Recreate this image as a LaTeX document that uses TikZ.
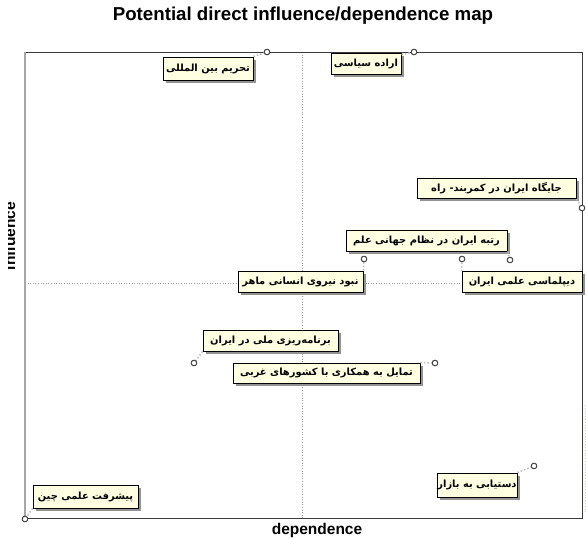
\documentclass[tikz,border=0pt]{standalone}
\usepackage{fontspec}
\setmainfont{Liberation Sans}
\newfontfamily\fa[Script=Arabic]{DejaVu Sans}
\TeXXeTstate=1
\usetikzlibrary{shadows}
\definecolor{boxfill}{RGB}{255,255,225}
\definecolor{framec}{RGB}{60,60,60}
\tikzset{
  lbl/.style={draw=black, line width=0.9pt, fill=boxfill,
    drop shadow={shadow xshift=2.5pt, shadow yshift=-2.5pt, fill=gray!85, opacity=1},
    inner sep=0pt, font=\fa\bfseries\fontsize{9.9}{12}\selectfont},
  pt/.style={circle, draw=gray!55!black, fill=white, line width=0.9pt, inner sep=0pt, minimum size=5.5pt},
  lead/.style={draw=gray!55, dotted, line width=1.5pt},
  mid/.style={draw=gray!75, dotted, line width=0.6pt},
  axislbl/.style={font=\bfseries\fontsize{15.5}{17}\selectfont},
}
\begin{document}
\begin{tikzpicture}[x=1pt,y=-1pt]
\useasboundingbox (0,0) rectangle (586,538);
% title
\node[font=\bfseries\fontsize{18.7}{21}\selectfont] (title) at (303,16) {Potential direct influence/dependence map};
% frame corners
\coordinate (tl) at (25,52);
\coordinate (br) at (582,518);
\coordinate (mt) at (302,52);
\coordinate (mb) at (302,518);
\coordinate (ml) at (25,283);
\coordinate (mr) at (582,283);
\draw[mid] (mt) -- (mb);
\draw[mid] (ml) -- (mr);
\draw[framec, line width=1pt] (tl) rectangle (br);
\draw[gray!70, line width=1.8pt] (25,52) -- (25,518);
\draw[draw={rgb,255:red,215;green,195;blue,160}, dotted, line width=0.8pt] (585,405) -- (585,512);
% axis labels
\node[axislbl, anchor=base] (dep) at (317,534) {dependence};
\begin{scope}
\clip (8,190) rectangle (20,285);
\node[axislbl, rotate=90, anchor=base] (inf) at (15,236) {influence};
\end{scope}
% points
\node[pt] (pA) at (267,52) {};
\node[pt] (pB) at (414,52) {};
\node[pt] (pC) at (582,208) {};
\node[pt] (pD) at (510,260) {};
\node[pt] (pE) at (364,259) {};
\node[pt] (pF) at (462,259) {};
\node[pt] (pG) at (194,363) {};
\node[pt] (pH) at (435,363) {};
\node[pt] (pI) at (25,519) {};
\node[pt] (pJ) at (534,466) {};
% labels
\node[lbl, minimum width=90pt, minimum height=23pt] (A) at (208,68.5) {\beginR تحریم بین المللی\endR};
\node[lbl, minimum width=70pt, minimum height=21pt] (B) at (366,63.5) {\beginR اراده سیاسی\endR};
\node[lbl, minimum width=159pt, minimum height=20pt] (C) at (496.5,188.5) {\beginR جایگاه ایران در کمربند- راه\endR};
\node[lbl, minimum width=161pt, minimum height=21pt] (D) at (426.5,240.5) {\beginR رتبه ایران در نظام جهانی علم\endR};
\node[lbl, minimum width=125pt, minimum height=21pt] (E) at (300.5,281.5) {\beginR نبود نیروی انسانی ماهر\endR};
\node[lbl, minimum width=120pt, minimum height=21pt] (F) at (522,282) {\beginR دیپلماسی علمی ایران\endR};
\node[lbl, minimum width=135pt, minimum height=21pt] (G) at (270.5,340.5) {\beginR برنامه‌ریزی ملی در ایران\endR};
\node[lbl, minimum width=187pt, minimum height=20pt] (H) at (326.5,373) {\beginR تمایل به همکاری با کشورهای غربی\endR};
\node[lbl, minimum width=105pt, minimum height=23pt] (I) at (85.5,496.5) {\beginR پیشرفت علمی چین\endR};
\node[lbl, minimum width=80pt, minimum height=24pt] (J) at (477,485) {\beginR دستیابی به بازار\endR};
% leaders
\draw[lead] (A.north east) -- (pA);
\draw[lead] ([yshift=-2pt]B.north east) -- (pB);
\draw[lead] (C.south east) -- (pC);
\draw[lead] (D.south east) -- (pD);
\draw[lead] (E.north east) -- (pE);
\draw[lead] (F.north west) -- (pF);
\draw[lead] (G.south west) -- (pG);
\draw[lead] (H.north east) -- (pH);
\draw[lead] (I.south west) -- (pI);
\draw[lead] (J.north east) -- (pJ);
% redraw points on top
\foreach \p in {pA,pB,pC,pD,pE,pF,pG,pH,pI,pJ}{
  \draw[gray!55!black, fill=white, line width=0.9pt] (\p) circle (2.75pt);
}
\end{tikzpicture}
\end{document}
